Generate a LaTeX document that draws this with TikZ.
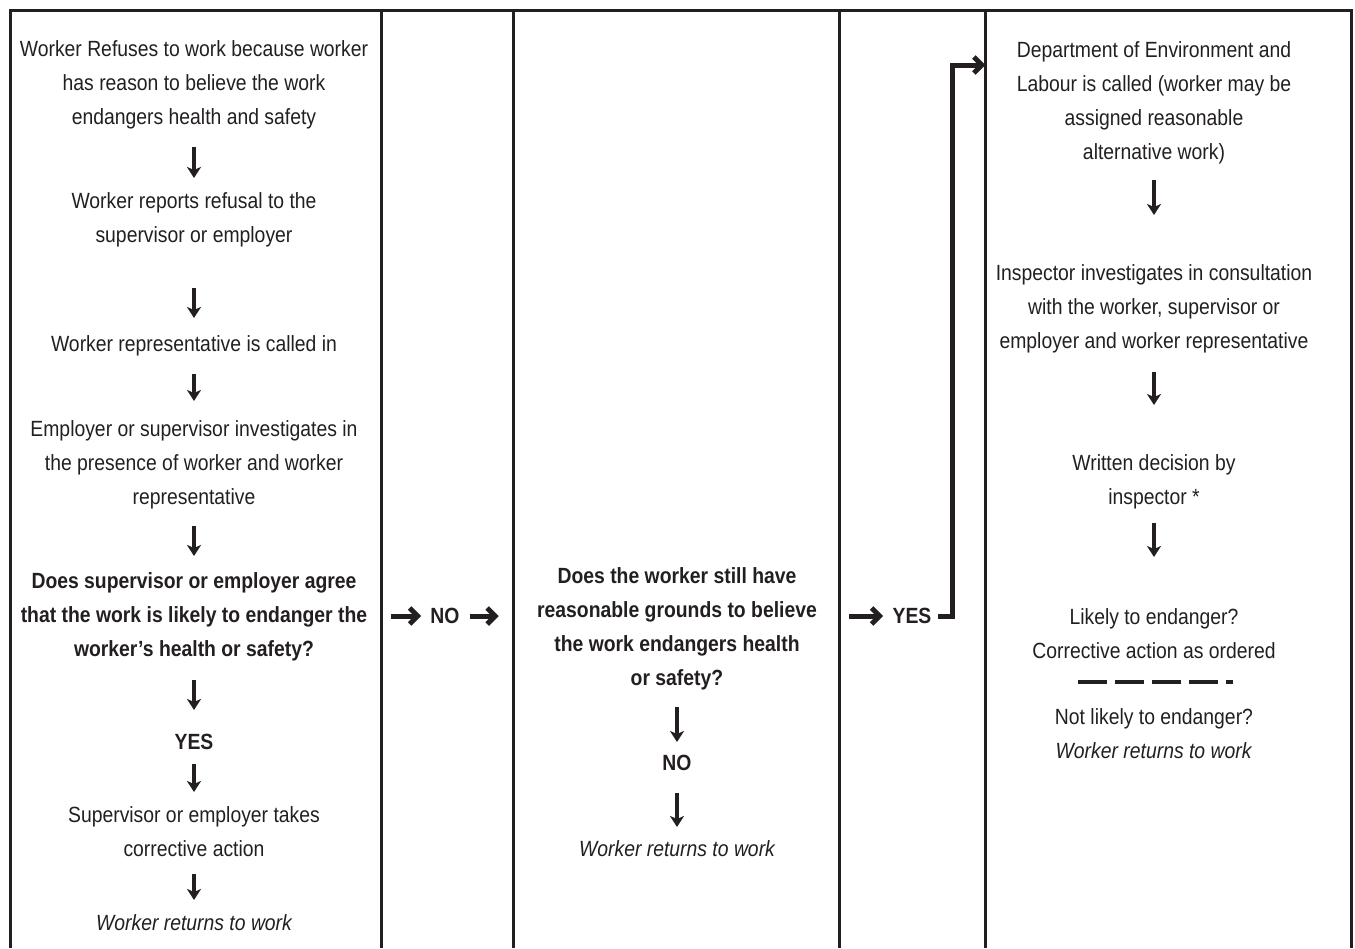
\documentclass[tikz,border=0pt]{standalone}
\usepackage{fontspec}
\setmainfont{Liberation Sans}[FakeStretch=0.88]
\usetikzlibrary{arrows.meta}
\definecolor{ink}{HTML}{231F20}

\begin{document}
\begin{tikzpicture}[
 x=0.5pt,y=-0.5pt,
 txt/.style={align=center,anchor=north,inner sep=0pt,text=ink,font=\fontsize{11}{17}\selectfont},
 hd/.style={txt,font=\fontsize{11}{17}\selectfont\bfseries},
 dn/.style={-{Stealth[length=5.5pt,width=7pt,inset=1.5pt]},line width=1.7pt,draw=ink},
 rt/.style={-{Straight Barb[length=4pt,width=8pt]},line width=2.5pt,draw=ink},
 ln/.style={line width=1.5pt,draw=ink}
]
\useasboundingbox (0,0) rectangle (1355,948);
% frame and columns
\draw[ln] (10,948) -- (10,10) -- (1351,10) -- (1351,948);
\foreach \x in {381,513,839,985} \draw[ln] (\x,10) -- (\x,948);

% first column
\node[txt] (refuse) at (194,40) {Worker Refuses to work because worker\\has reason to believe the work\\endangers health and safety};
\node[txt] (report) at (194,192) {Worker reports refusal to the\\supervisor or employer};
\node[txt] (rep) at (194,335) {Worker representative is called in};
\node[txt] (invest) at (194,420) {Employer or supervisor investigates in\\the presence of worker and worker\\representative};
\node[hd] (agree) at (194,572) {Does supervisor or employer agree\\that the work is likely to endanger the\\worker’s health or safety?};
\node[hd] (yes1) at (194,734) {YES};
\node[txt] (correct) at (194,806) {Supervisor or employer takes\\corrective action};
\node[txt] (ret1) at (194,914) {\itshape Worker returns to work};

\draw[dn,shorten <=9pt,shorten >=7pt] (refuse) -- (report);
\draw[dn,shorten <=20.5pt,shorten >=8.5pt] (report) -- (rep);
\draw[dn,shorten <=9pt,shorten >=9.5pt] (rep) -- (invest);
\draw[dn,shorten <=8.5pt,shorten >=8pt] (invest) -- (agree);
\draw[dn,shorten <=9.5pt,shorten >=12pt] (agree) -- (yes1);
\draw[dn,shorten <=7pt,shorten >=7pt] (yes1) -- (correct);
\draw[dn,shorten <=8.5pt,shorten >=7pt] (correct) -- (ret1);

% second column
\node[hd,anchor=center] (no1) at (445,616) {NO};

% third column
\node[hd] (still) at (677,567) {Does the worker still have\\reasonable grounds to believe\\the work endangers health\\or safety?};
\node[hd] (no2) at (677,755) {NO};
\node[txt] (ret2) at (677,840) {\itshape Worker returns to work};

\draw[rt,shorten <=11.5pt,shorten >=4.5pt] (agree.east |- no1.west) -- (no1.west);
\draw[rt,shorten <=5pt,shorten >=19pt] (no1.east) -- (no1.east -| still.west);
\draw[dn,shorten <=8.5pt,shorten >=6.5pt] (still) -- (no2);
\draw[dn,shorten <=11pt,shorten >=6.5pt] (no2) -- (ret2);

% fourth column
\node[hd,anchor=center] (yes2) at (912,616) {YES};
\coordinate (jog) at (952,65);

% fifth column
\node[txt] (dept) at (1154,41) {Department of Environment and\\Labour is called (worker may be\\assigned reasonable\\alternative work)};
\node[txt] (insp) at (1154,264) {Inspector investigates in consultation\\with the worker, supervisor or\\employer and worker representative};
\node[txt] (written) at (1154,454) {Written decision by\\inspector *};
\node[txt] (likely) at (1154,608) {Likely to endanger?\\Corrective action as ordered};
\node[txt] (notlikely) at (1154,708) {Not likely to endanger?\\\textit{Worker returns to work}};
\draw[line width=2pt,draw=ink,dash pattern=on 14.5pt off 4pt] (1078,682) -- (1233,682);

\draw[rt,shorten <=16pt,shorten >=4.5pt] (still.east |- yes2.west) -- (yes2.west);
\draw[rt,line join=miter,shorten <=3pt,shorten >=15.5pt] (yes2.east) -| (jog) -- (jog -| dept.west);
\draw[dn,shorten <=8pt,shorten >=24.5pt] (dept) -- (insp);
\draw[dn,shorten <=9.5pt,shorten >=24.5pt] (insp) -- (written);
\draw[dn,shorten <=7pt,shorten >=25.5pt] (written) -- (likely);
\end{tikzpicture}
\end{document}
